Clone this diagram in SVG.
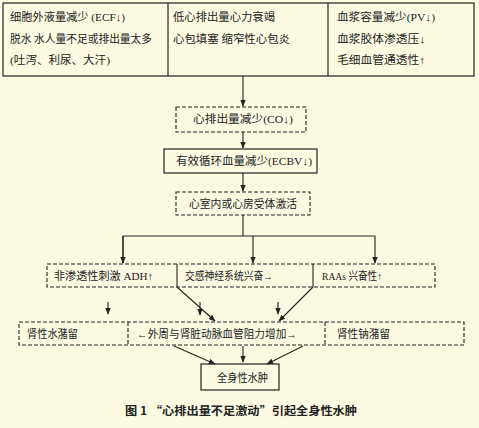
<svg xmlns="http://www.w3.org/2000/svg" width="479" height="428" viewBox="0 0 479 428">
<style>
text{font-family:"Liberation Serif","Noto Sans CJK SC",serif;font-size:11px;fill:#222}
.cap{font-weight:bold;font-family:"Noto Sans CJK SC","Liberation Sans",sans-serif;font-size:11.5px}
.solid{fill:none;stroke:#222;stroke-width:1.2}
.dash{fill:none;stroke:#222;stroke-width:1.1;stroke-dasharray:4 2}
.ln{fill:none;stroke:#222;stroke-width:1.1}
</style>
<defs>
<marker id="ah" viewBox="0 0 10 10" refX="9" refY="5" markerWidth="7" markerHeight="7" markerUnits="userSpaceOnUse" orient="auto">
<path d="M0,1 L10,5 L0,9 Z" fill="#222"/>
</marker>
</defs>
<rect width="479" height="428" fill="#fcfbe2"/>

<g id="top">
<rect class="solid" x="3" y="3" width="471" height="73"/>
<line class="solid" x1="168" y1="3" x2="168" y2="76"/>
<line class="solid" x1="328" y1="3" x2="328" y2="76"/>
<text x="10" y="21" textLength="115" lengthAdjust="spacingAndGlyphs">细胞外液量减少 (ECF↓)</text>
<text x="10" y="43" textLength="142" lengthAdjust="spacingAndGlyphs">脱水 水人量不足或排出量太多</text>
<text x="10" y="64" textLength="100" lengthAdjust="spacingAndGlyphs">(吐泻、利尿、大汗)</text>
<text x="173" y="21" textLength="102" lengthAdjust="spacingAndGlyphs">低心排出量心力衰竭</text>
<text x="173" y="43" textLength="117" lengthAdjust="spacingAndGlyphs">心包填塞 缩窄性心包炎</text>
<text x="337" y="21" textLength="98" lengthAdjust="spacingAndGlyphs">血浆容量减少(PV↓)</text>
<text x="337" y="43" textLength="88" lengthAdjust="spacingAndGlyphs">血浆胶体渗透压↓</text>
<text x="337" y="64" textLength="88" lengthAdjust="spacingAndGlyphs">毛细血管通透性↑</text>
</g>

<g id="co">
<rect class="dash" x="176" y="107" width="130" height="25"/>
<text x="193" y="123" textLength="100" lengthAdjust="spacingAndGlyphs">心排出量减少(CO↓)</text>
</g>
<g id="ecbv">
<rect class="solid" x="164" y="149" width="153" height="24"/>
<text x="176" y="165" textLength="136" lengthAdjust="spacingAndGlyphs">有效循环血量减少(ECBV↓)</text>
</g>
<g id="receptor">
<rect class="dash" x="176" y="192" width="134" height="23"/>
<text x="189" y="208" textLength="108" lengthAdjust="spacingAndGlyphs">心室内或心房受体激活</text>
</g>

<g id="mid">
<rect class="dash" x="47" y="264" width="388" height="23"/>
<line class="ln" x1="177" y1="264" x2="177" y2="287"/>
<line class="ln" x1="313" y1="264" x2="313" y2="287"/>
<text x="54" y="280" textLength="99" lengthAdjust="spacingAndGlyphs">非渗透性刺激 ADH↑</text>
<text x="185" y="280" textLength="88" lengthAdjust="spacingAndGlyphs">交感神经系统兴奋→</text>
<text x="322" y="280" textLength="60" lengthAdjust="spacingAndGlyphs">RAAs 兴奋性↑</text>
</g>

<g id="bottom">
<rect class="dash" x="19" y="322" width="445" height="23"/>
<line class="dash" x1="128" y1="322" x2="128" y2="345"/>
<line class="dash" x1="325" y1="322" x2="325" y2="345"/>
<text x="27" y="338" textLength="51" lengthAdjust="spacingAndGlyphs">肾性水潴留</text>
<text x="137" y="338" textLength="160" lengthAdjust="spacingAndGlyphs">←外周与肾脏动脉血管阻力增加→</text>
<text x="337" y="338" textLength="53" lengthAdjust="spacingAndGlyphs">肾性钠潴留</text>
</g>

<g id="edema">
<rect class="solid" x="201" y="364" width="78" height="26"/>
<text x="217" y="382" textLength="51" lengthAdjust="spacingAndGlyphs">全身性水肿</text>
</g>

<g id="connectors">
<line class="ln" x1="243" y1="76" x2="243" y2="106" marker-end="url(#ah)"/>
<line class="ln" x1="243" y1="132" x2="243" y2="148" marker-end="url(#ah)"/>
<line class="ln" x1="243" y1="173" x2="243" y2="191" marker-end="url(#ah)"/>
<polyline class="ln" points="243,215 243,236"/>
<polyline class="ln" points="123,263 123,236 375,236 375,263" marker-end="url(#ah)"/>
<line class="ln" x1="123" y1="236" x2="123" y2="263" marker-end="url(#ah)"/>
<line class="ln" x1="253" y1="236" x2="253" y2="263" marker-end="url(#ah)"/>
<line class="ln" x1="108" y1="302" x2="108" y2="314" marker-end="url(#ah)"/>
<line class="ln" x1="200" y1="302" x2="200" y2="315" marker-end="url(#ah)"/>
<line class="ln" x1="278" y1="302" x2="278" y2="314" marker-end="url(#ah)"/>
<line class="ln" x1="177" y1="287" x2="215" y2="321" marker-end="url(#ah)"/>
<line class="ln" x1="313" y1="287" x2="279" y2="321" marker-end="url(#ah)"/>
<line class="ln" x1="174" y1="346" x2="215" y2="364" marker-end="url(#ah)"/>
<line class="ln" x1="243" y1="346" x2="243" y2="362" marker-end="url(#ah)"/>
<line class="ln" x1="303" y1="346" x2="267" y2="364" marker-end="url(#ah)"/>
</g>

<text class="cap" x="125" y="415" textLength="232" lengthAdjust="spacingAndGlyphs">图 1 “心排出量不足激动”引起全身性水肿</text>
</svg>
